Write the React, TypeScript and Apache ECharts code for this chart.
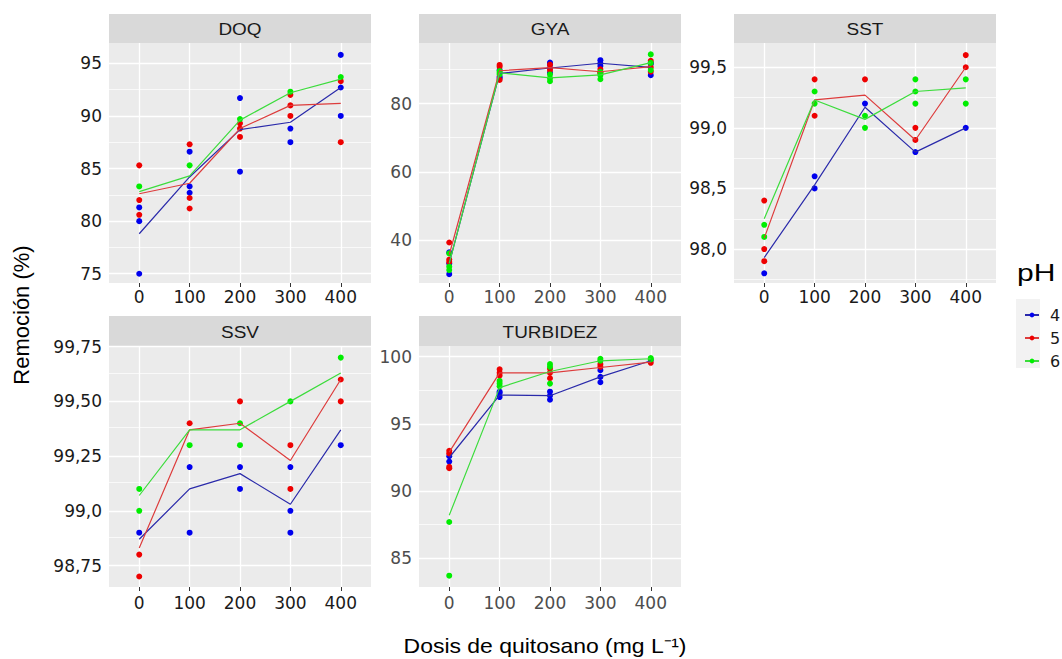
import React, { useEffect, useRef } from "react";
import * as echarts from "echarts";

// ---------- data ----------
const DOSES = [0, 100, 200, 300, 400];
const PH_LEVELS = ["4", "5", "6"];
const PANEL_NAMES = ["DOQ", "GYA", "SST", "SSV", "TURBIDEZ"];

// DOQ
const DOQ_PH4_POINTS = [[0, 75.0], [0, 80.0], [0, 81.3], [100, 86.6], [100, 83.3], [100, 82.7], [200, 91.7], [200, 84.7], [300, 88.8], [300, 87.5], [400, 95.8], [400, 92.7], [400, 90.0]];
const DOQ_PH5_POINTS = [[0, 85.3], [0, 82.0], [0, 80.6], [100, 87.3], [100, 82.2], [100, 81.2], [200, 89.3], [200, 88.8], [200, 88.0], [300, 92.0], [300, 91.0], [300, 90.0], [400, 93.3], [400, 87.5]];
const DOQ_PH6_POINTS = [[0, 83.3], [100, 85.3], [200, 89.7], [300, 92.3], [400, 93.7]];
const DOQ_PH4_MEAN = [78.8, 84.2, 88.7, 89.4, 92.7];
const DOQ_PH5_MEAN = [82.6, 83.6, 88.8, 91.0, 91.2];
const DOQ_PH6_MEAN = [82.8, 84.3, 89.6, 92.2, 93.5];
const DOQ_TICKS = [75, 80, 85, 90, 95];
const DOQ_TICK_LABELS = ["75", "80", "85", "90", "95"];
const DOQ_MINOR = [77.5, 82.5, 87.5, 92.5];

// GYA
const GYA_PH4_POINTS = [[0, 36.3], [0, 33.0], [0, 29.9], [100, 89.9], [100, 87.9], [100, 87.5], [200, 92.1], [200, 91.4], [200, 89.1], [300, 92.8], [300, 91.9], [300, 91.1], [400, 91.7], [400, 88.4], [400, 92.0]];
const GYA_PH5_POINTS = [[0, 39.2], [0, 34.2], [0, 33.5], [100, 91.4], [100, 90.9], [100, 87.0], [200, 91.5], [200, 90.4], [200, 89.9], [300, 90.1], [300, 89.1], [300, 89.0], [400, 92.6], [400, 90.7], [400, 89.4]];
const GYA_PH6_POINTS = [[0, 36.0], [0, 32.1], [0, 31.1], [100, 89.1], [100, 88.6], [100, 89.6], [200, 88.6], [200, 87.5], [200, 86.6], [300, 89.4], [300, 88.4], [300, 87.2], [400, 94.5], [400, 92.0], [400, 89.9]];
const GYA_PH4_MEAN = [33.1, 88.9, 90.5, 91.9, 90.7];
const GYA_PH5_MEAN = [35.6, 89.7, 90.6, 89.4, 90.9];
const GYA_PH6_MEAN = [33.1, 89.1, 87.6, 88.5, 92.1];
const GYA_TICKS = [40, 60, 80];
const GYA_TICK_LABELS = ["40", "60", "80"];
const GYA_MINOR = [30, 50, 70, 90];

// SST
const SST_PH4_POINTS = [[0, 97.8], [100, 98.6], [100, 98.5], [200, 99.2], [300, 98.8], [400, 99.0]];
const SST_PH5_POINTS = [[0, 98.4], [0, 98.0], [0, 97.9], [100, 99.4], [100, 99.1], [200, 99.4], [300, 99.0], [300, 98.9], [400, 99.6], [400, 99.5]];
const SST_PH6_POINTS = [[0, 98.2], [0, 98.1], [100, 99.3], [100, 99.2], [200, 99.1], [200, 99.0], [300, 99.4], [300, 99.3], [300, 99.2], [400, 99.4], [400, 99.2]];
const SST_PH4_MEAN = [97.93, 98.53, 99.17, 98.8, 99.0];
const SST_PH5_MEAN = [98.09, 99.23, 99.27, 98.9, 99.5];
const SST_PH6_MEAN = [98.25, 99.23, 99.07, 99.3, 99.33];
const SST_TICKS = [98.0, 98.5, 99.0, 99.5];
const SST_TICK_LABELS = ["98,0", "98,5", "99,0", "99,5"];
const SST_MINOR = [97.75, 98.25, 98.75, 99.25];

// SSV
const SSV_PH4_POINTS = [[0, 98.9], [100, 99.2], [100, 98.9], [200, 99.2], [200, 99.1], [300, 99.2], [300, 99.0], [300, 98.9], [400, 99.3]];
const SSV_PH5_POINTS = [[0, 98.8], [0, 98.7], [100, 99.4], [200, 99.5], [300, 99.3], [300, 99.1], [400, 99.6], [400, 99.5]];
const SSV_PH6_POINTS = [[0, 99.1], [0, 99.0], [100, 99.3], [200, 99.4], [200, 99.3], [300, 99.5], [400, 99.7]];
const SSV_PH4_MEAN = [98.87, 99.1, 99.17, 99.03, 99.37];
const SSV_PH5_MEAN = [98.83, 99.37, 99.4, 99.23, 99.6];
const SSV_PH6_MEAN = [99.07, 99.37, 99.37, 99.5, 99.63];
const SSV_TICKS = [98.75, 99.0, 99.25, 99.5, 99.75];
const SSV_TICK_LABELS = ["98,75", "99,0", "99,25", "99,50", "99,75"];
const SSV_MINOR = [98.875, 99.125, 99.375, 99.625];

// TURBIDEZ
const TURB_PH4_POINTS = [[0, 92.6], [0, 92.2], [100, 97.4], [100, 97.3], [100, 97.0], [200, 97.4], [200, 97.1], [200, 96.8], [300, 99.0], [300, 98.5], [300, 98.1], [400, 99.75]];
const TURB_PH5_POINTS = [[0, 93.0], [0, 92.8], [0, 91.8], [0, 91.7], [100, 99.06], [100, 98.8], [100, 98.6], [200, 99.1], [200, 98.8], [200, 98.4], [300, 99.45], [300, 99.25], [400, 99.55]];
const TURB_PH6_POINTS = [[0, 87.7], [0, 83.7], [100, 98.2], [100, 98.0], [100, 97.8], [200, 99.45], [200, 99.25], [200, 98.0], [300, 99.85], [300, 99.7], [400, 99.9], [400, 99.8]];
const TURB_PH4_MEAN = [92.5, 97.15, 97.1, 98.5, 99.7];
const TURB_PH5_MEAN = [92.9, 98.8, 98.8, 99.2, 99.6];
const TURB_PH6_MEAN = [88.2, 97.7, 98.9, 99.7, 99.85];
const TURB_TICKS = [85, 90, 95, 100];
const TURB_TICK_LABELS = ["85", "90", "95", "100"];
const TURB_MINOR = [87.5, 92.5, 97.5];

// ---------- styling / layout ----------
const POINT_COLORS = ["#0000ee", "#ee0000", "#00ee00"];
const LINE_COLORS = ["#2a2aaa", "#dd3c3c", "#3cdc3c"];
const FONT = "'Liberation Sans', Arial, Helvetica, sans-serif";
const TICK_FONT = "'DejaVu Sans', 'Liberation Sans', sans-serif";

const PANELS = [
  { name: PANEL_NAMES[0], points: [DOQ_PH4_POINTS, DOQ_PH5_POINTS, DOQ_PH6_POINTS], means: [DOQ_PH4_MEAN, DOQ_PH5_MEAN, DOQ_PH6_MEAN], ticks: DOQ_TICKS, labels: DOQ_TICK_LABELS, minor: DOQ_MINOR, yMin: 74.12, yMax: 96.93, left: 109, top: 43, width: 262, height: 240, stripTop: 14, labelColor: "#1a1a1a", xMargin: 5 },
  { name: PANEL_NAMES[1], points: [GYA_PH4_POINTS, GYA_PH5_POINTS, GYA_PH6_POINTS], means: [GYA_PH4_MEAN, GYA_PH5_MEAN, GYA_PH6_MEAN], ticks: GYA_TICKS, labels: GYA_TICK_LABELS, minor: GYA_MINOR, yMin: 27.3, yMax: 97.85, left: 419, top: 43, width: 262, height: 240, stripTop: 14, labelColor: "#4d4d4d", xMargin: 5 },
  { name: PANEL_NAMES[2], points: [SST_PH4_POINTS, SST_PH5_POINTS, SST_PH6_POINTS], means: [SST_PH4_MEAN, SST_PH5_MEAN, SST_PH6_MEAN], ticks: SST_TICKS, labels: SST_TICK_LABELS, minor: SST_MINOR, yMin: 97.72, yMax: 99.7, left: 734, top: 43, width: 262, height: 240, stripTop: 14, labelColor: "#1a1a1a", xMargin: 5 },
  { name: PANEL_NAMES[3], points: [SSV_PH4_POINTS, SSV_PH5_POINTS, SSV_PH6_POINTS], means: [SSV_PH4_MEAN, SSV_PH5_MEAN, SSV_PH6_MEAN], ticks: SSV_TICKS, labels: SSV_TICK_LABELS, minor: SSV_MINOR, yMin: 98.652, yMax: 99.753, left: 109, top: 346, width: 262, height: 241, stripTop: 316, labelColor: "#1a1a1a", xMargin: 7 },
  { name: PANEL_NAMES[4], points: [TURB_PH4_POINTS, TURB_PH5_POINTS, TURB_PH6_POINTS], means: [TURB_PH4_MEAN, TURB_PH5_MEAN, TURB_PH6_MEAN], ticks: TURB_TICKS, labels: TURB_TICK_LABELS, minor: TURB_MINOR, yMin: 82.86, yMax: 100.8, left: 419, top: 346, width: 262, height: 241, stripTop: 316, labelColor: "#4d4d4d", xMargin: 7 },
];

function buildOption() {
  const grid: any[] = [];
  const xAxis: any[] = [];
  const yAxis: any[] = [];
  const series: any[] = [];
  const graphic: any[] = [];

  PANELS.forEach((p, i) => {
    grid.push({
      left: p.left, top: p.top, width: p.width, height: p.height,
      show: true, backgroundColor: "#ebebeb", borderWidth: 0, containLabel: false,
    });
    xAxis.push({
      type: "value", gridIndex: i, min: -60, max: 460,
      axisLine: { show: false },
      axisTick: { show: true, length: 4, customValues: DOSES, lineStyle: { color: "#333333", width: 1 } },
      axisLabel: { customValues: DOSES, fontSize: 17, color: p.labelColor, margin: p.xMargin, fontFamily: TICK_FONT, formatter: (v: number) => String(v) },
      splitLine: { show: false },
    });
    yAxis.push({
      type: "value", gridIndex: i, min: p.yMin, max: p.yMax,
      axisLine: { show: false },
      axisTick: { show: true, length: 4, customValues: p.ticks, lineStyle: { color: "#333333", width: 1 } },
      axisLabel: {
        customValues: p.ticks, fontSize: 17, color: p.labelColor, margin: 7, fontFamily: TICK_FONT,
        formatter: (v: number) => {
          const k = p.ticks.findIndex((t) => Math.abs(t - v) < 1e-6);
          return k >= 0 ? p.labels[k] : "";
        },
      },
      splitLine: { show: false },
    });

    // grid lines (drawn through the axes' scales)
    const gridLines: any[] = [];
    p.minor.forEach((v) => gridLines.push({ yAxis: v, lineStyle: { color: "#ffffff", width: 0.7, type: "solid" } }));
    p.ticks.forEach((v) => gridLines.push({ yAxis: v, lineStyle: { color: "#ffffff", width: 1.3, type: "solid" } }));
    DOSES.forEach((d) => gridLines.push({ xAxis: d, lineStyle: { color: "#ffffff", width: 1.3, type: "solid" } }));
    series.push({
      type: "line", name: "grid" + i, xAxisIndex: i, yAxisIndex: i, data: [], silent: true, z: 1,
      markLine: {
        silent: true, z: 1, symbol: ["none", "none"], label: { show: false },
        emphasis: { disabled: true }, lineStyle: { type: "solid" }, data: gridLines,
      },
    });

    PH_LEVELS.forEach((ph, k) => {
      series.push({
        type: "scatter", name: "pts" + ph, xAxisIndex: i, yAxisIndex: i,
        data: p.points[k], symbol: "circle", symbolSize: 6, z: 2,
        itemStyle: { color: POINT_COLORS[k], opacity: 1 },
      });
    });
    PH_LEVELS.forEach((ph, k) => {
      series.push({
        type: "line", name: ph, xAxisIndex: i, yAxisIndex: i,
        data: DOSES.map((d, j) => [d, p.means[k][j]]),
        symbol: "circle", showSymbol: false, z: 3,
        lineStyle: { color: LINE_COLORS[k], width: 1.2 },
        itemStyle: { color: POINT_COLORS[k] },
      });
    });

    // facet strip
    graphic.push({
      type: "rect", left: p.left, top: p.stripTop, z: 0,
      shape: { width: p.width, height: p.top - p.stripTop },
      style: { fill: "#d9d9d9" }, silent: true,
    });
    graphic.push({
      type: "text", x: p.left + p.width / 2, y: (p.stripTop + p.top) / 2 + 1, z: 1, scaleX: 1.15,
      style: { text: p.name, fill: "#1a1a1a", fontSize: 16.5, fontFamily: FONT, textAlign: "center", textVerticalAlign: "middle" },
      silent: true,
    });
  });

  // axis titles
  graphic.push({
    type: "text", x: 21, y: 315, rotation: Math.PI / 2,
    style: { text: "Remoción (%)", fill: "#000000", fontSize: 22, fontFamily: FONT, textAlign: "center", textVerticalAlign: "middle" },
    silent: true,
  });
  graphic.push({
    type: "text", x: 545, y: 646, scaleX: 1.12,
    style: { text: "Dosis de quitosano (mg L⁻¹)", fill: "#000000", fontSize: 20.5, fontFamily: FONT, textAlign: "center", textVerticalAlign: "middle" },
    silent: true,
  });
  // legend title and key background
  graphic.push({
    type: "text", x: 1017, y: 273, scaleX: 1.25,
    style: { text: "pH", fill: "#000000", fontSize: 24, fontFamily: FONT, textAlign: "left", textVerticalAlign: "middle" },
    silent: true,
  });
  graphic.push({
    type: "rect", left: 1016, top: 299, z: -1,
    shape: { width: 24, height: 69 },
    style: { fill: "#f2f2f2" }, silent: true,
  });

  return {
    animation: false,
    backgroundColor: "#ffffff",
    textStyle: { fontFamily: FONT },
    grid, xAxis, yAxis, series, graphic,
    legend: {
      data: PH_LEVELS, orient: "vertical", left: 1019, top: 302,
      itemWidth: 14, itemHeight: 6, itemGap: 7, selectedMode: false,
      textStyle: { fontSize: 16, color: "#1a1a1a", fontFamily: TICK_FONT, padding: [0, 0, 0, 6] },
    },
  };
}

export default function App() {
  const ref = useRef<HTMLDivElement>(null);
  useEffect(() => {
    if (!ref.current) return;
    const chart = echarts.init(ref.current, undefined, { renderer: "svg" });
    chart.setOption(buildOption() as any);
    return () => chart.dispose();
  }, []);
  return <div ref={ref} style={{ position: "fixed", left: 0, top: 0, width: 1062, height: 659 }} />;
}
